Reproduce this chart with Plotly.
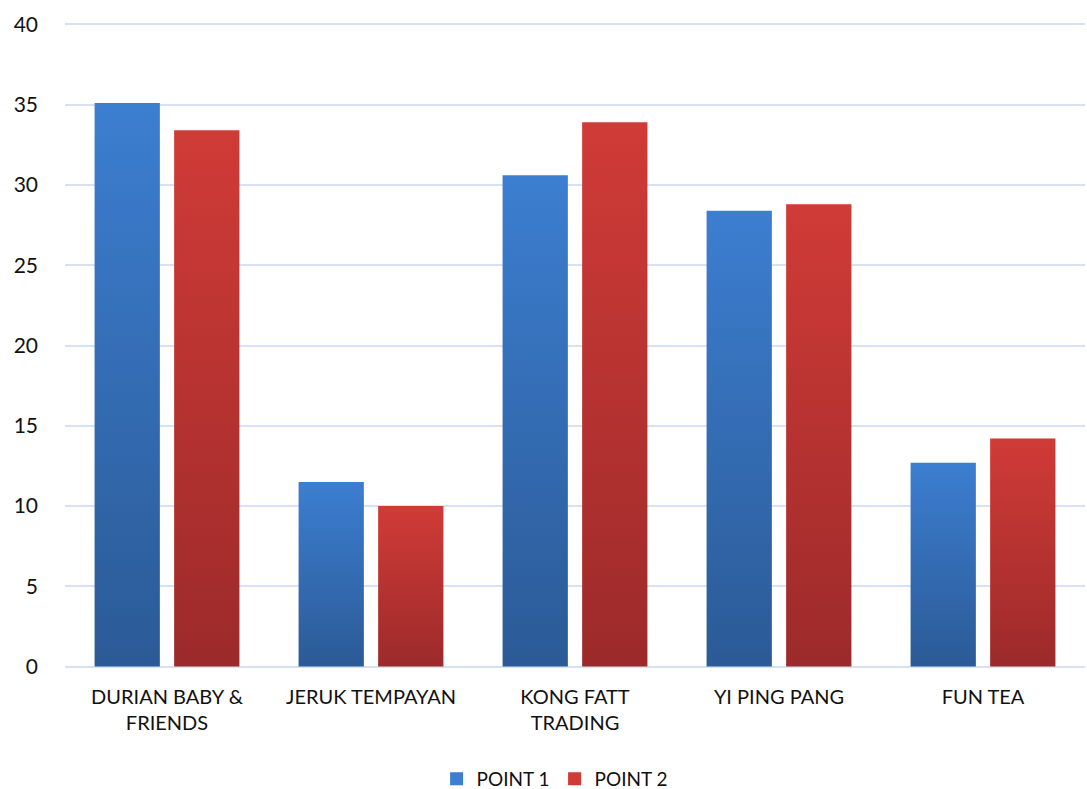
import plotly.graph_objects as go

categories = ["DURIAN BABY &<br>FRIENDS", "JERUK TEMPAYAN", "KONG FATT<br>TRADING", "YI PING PANG", "FUN TEA"]
point1 = [35.1, 11.5, 30.6, 28.4, 12.7]
point2 = [33.4, 10.0, 33.9, 28.8, 14.2]
series_names = ["POINT 1", "POINT 2"]
y_ticks = [0, 5, 10, 15, 20, 25, 30, 35, 40]

# styles
BAR_W = 0.32
INNER_GAP = 0.035
series_styles = [
    {"dark": "#2b5a96", "light": "#3c7ed0", "side": -1},
    {"dark": "#9c2a2a", "light": "#d03b37", "side": 1},
]

fig = go.Figure()
for name, vals, st in zip(series_names, [point1, point2], series_styles):
    for i, v in enumerate(vals):
        if st["side"] < 0:
            x0, x1 = i - INNER_GAP - BAR_W, i - INNER_GAP
        else:
            x0, x1 = i + INNER_GAP, i + INNER_GAP + BAR_W
        fig.add_trace(go.Scatter(
            x=[x0, x1, x1, x0, x0], y=[0, 0, v, v, 0],
            mode="lines", line=dict(width=0),
            fill="toself",
            fillgradient=dict(type="vertical", start=0, stop=v,
                              colorscale=[[0, st["dark"]], [1, st["light"]]]),
            name=name, legendgroup=name, showlegend=False,
            hovertemplate=f"{name}: {v}<extra></extra>",
        ))
    fig.add_trace(go.Scatter(
        x=[None], y=[None], mode="markers",
        marker=dict(symbol="square", size=13, color=st["light"]),
        name=name, legendgroup=name, showlegend=True,
    ))

fig.update_layout(
    width=1087, height=789,
    margin=dict(l=65, r=2, t=22, b=120, autoexpand=False),
    paper_bgcolor="white", plot_bgcolor="white",
    font=dict(family="Lato, Open Sans, sans-serif", color="#111111"),
    showlegend=True,
    legend=dict(orientation="h", x=0.48, xanchor="center",
                yref="container", y=10 / 789, yanchor="middle",
                font=dict(size=19), itemwidth=30, tracegroupgap=0),
    xaxis=dict(range=[-0.5, 4.5], tickmode="array", tickvals=list(range(len(categories))),
               ticktext=categories, showgrid=False, zeroline=False, showline=False,
               tickfont=dict(size=20), ticks="", ticklabelstandoff=14),
    yaxis=dict(range=[-0.15, 40.15], tickmode="array", tickvals=y_ticks,
               showgrid=True, gridcolor="#d6e2f1", gridwidth=2,
               zeroline=True, zerolinecolor="#d6e2f1", zerolinewidth=2,
               showline=False, tickfont=dict(size=21),
               ticks="", ticklabelstandoff=26),
)

fig.write_html("out.html")
